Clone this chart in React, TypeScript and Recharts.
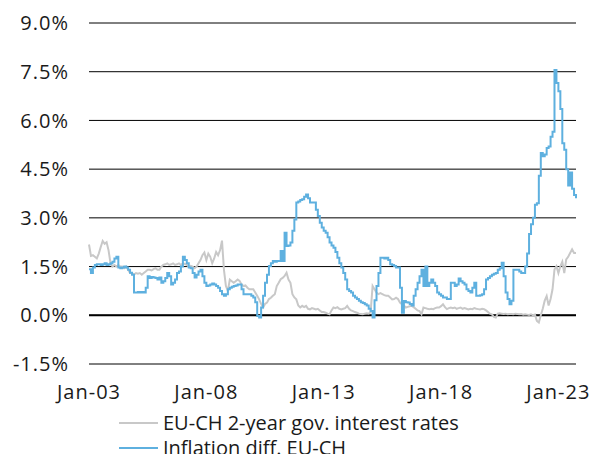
import React from 'react';
import {
  LineChart,
  Line,
  XAxis,
  YAxis,
  CartesianGrid,
  ReferenceLine,
} from 'recharts';

// monthly observations, Jan 2003 .. Oct 2023 (index 0 = Jan-03)
const xTicks = [0, 60, 120, 180, 240];
const xTickLabels = ['Jan-03', 'Jan-08', 'Jan-13', 'Jan-18', 'Jan-23'];
const yTicks = [-1.5, 0, 1.5, 3, 4.5, 6, 7.5, 9];

const seriesNames = ['EU-CH 2-year gov. interest rates', 'Inflation diff. EU-CH'];
const seriesColors = ['#c8c8c8', '#5eb0df'];

// EU-CH 2-year government yield spread, %
const rateDiff = [
  2.18, 1.83, 1.85, 1.80, 1.75, 1.90, 2.10, 2.29, 2.20, 2.25, 2.00, 1.60,
  1.50, 1.55, 1.50, 1.55, 1.50, 1.50, 1.45, 1.50, 1.40, 1.30, 1.30, 1.25,
  1.30, 1.28, 1.30, 1.25, 1.30, 1.35, 1.40, 1.40, 1.38, 1.42, 1.45, 1.40,
  1.40, 1.50, 1.55, 1.57, 1.60, 1.55, 1.57, 1.60, 1.55, 1.57, 1.60, 1.55,
  1.60, 1.58, 1.55, 1.50, 1.52, 1.50, 1.45, 1.50, 1.60, 1.70, 1.85, 1.93,
  1.70, 1.90, 1.80, 1.60, 1.75, 1.95, 1.85, 2.00, 2.30, 1.40, 0.90, 0.75,
  1.10, 1.05, 1.00, 1.05, 1.10, 1.06, 0.95, 0.90, 0.92, 0.85, 0.80, 0.80,
  0.80, 0.70, 0.60, 0.49, 0.35, 0.24, 0.35, 0.39, 0.50, 0.54, 0.60, 0.65,
  0.90, 1.00, 1.11, 1.15, 1.21, 1.31, 1.10, 1.00, 0.65, 0.55, 0.49, 0.30,
  0.24, 0.29, 0.25, 0.29, 0.20, 0.18, 0.22, 0.20, 0.18, 0.20, 0.15, 0.10,
  0.10, 0.08, 0.05, 0.03, 0.15, 0.24, 0.22, 0.25, 0.20, 0.18, 0.20, 0.22,
  0.29, 0.20, 0.15, 0.13, 0.10, 0.08, 0.05, 0.04, 0.03, 0.05, 0.06, 0.05,
  0.10, 0.90, 0.80, 0.70, 0.65, 0.68, 0.65, 0.62, 0.60, 0.60, 0.55, 0.49,
  0.50, 0.54, 0.50, 0.39, 0.34, 0.30, 0.24, 0.26, 0.28, 0.29, 0.25, 0.20,
  0.15, 0.13, 0.03, 0.24, 0.22, 0.20, 0.19, 0.20, 0.19, 0.22, 0.24, 0.24,
  0.28, 0.34, 0.25, 0.19, 0.22, 0.24, 0.22, 0.24, 0.20, 0.22, 0.24, 0.20,
  0.22, 0.20, 0.18, 0.20, 0.19, 0.22, 0.20, 0.19, 0.18, 0.20, 0.19, 0.15,
  0.10, 0.05, 0.03, -0.05, -0.07, 0.05, 0.06, 0.05, 0.04, 0.05, 0.03, 0.04,
  0.04, 0.03, 0.05, 0.04, 0.03, 0.04, 0.02, 0.03, 0.02, 0.01, 0.03, 0.00,
  0.02, -0.17, -0.22, 0.00, 0.20, 0.45, 0.59, 0.30, 0.50, 0.80, 1.41, 1.51,
  1.30, 1.51, 1.65, 1.30, 1.72, 1.80, 1.92, 2.03, 1.92, 1.92,
];

// EU minus CH headline inflation, %
const inflationDiff = [
  1.42, 1.30, 1.47, 1.55, 1.57, 1.57, 1.55, 1.57, 1.60, 1.55, 1.57, 1.60,
  1.65, 1.75, 1.80, 1.47, 1.45, 1.47, 1.50, 1.47, 1.40, 1.31, 1.25, 0.70,
  0.70, 0.72, 0.70, 0.72, 0.70, 0.85, 1.20, 1.15, 1.18, 1.16, 1.15, 1.10,
  1.16, 1.00, 1.05, 1.15, 1.30, 1.20, 0.95, 1.00, 1.10, 1.30, 1.35, 1.50,
  1.80, 1.70, 1.60, 1.47, 1.45, 1.30, 1.16, 1.25, 1.35, 1.40, 1.20, 1.00,
  0.90, 0.92, 0.95, 0.98, 0.95, 0.90, 0.85, 0.75, 0.65, 0.60, 0.65, 0.80,
  0.85, 0.88, 0.90, 0.92, 0.95, 0.95, 0.80, 0.65, 0.65, 0.65, 0.65, 0.60,
  0.55, 0.40, -0.02, -0.07, 0.24, 0.60, 1.00, 1.25, 1.52, 1.60, 1.67, 1.65,
  1.67, 1.67, 1.98, 1.67, 2.54, 2.13, 2.15, 2.24, 2.60, 2.95, 3.47, 3.50,
  3.55, 3.57, 3.65, 3.72, 3.60, 3.47, 3.47, 3.47, 3.25, 3.06, 2.85, 2.70,
  2.60, 2.54, 2.40, 2.24, 2.15, 2.08, 1.95, 1.77, 1.60, 1.47, 1.30, 1.10,
  0.80, 0.75, 0.70, 0.60, 0.55, 0.50, 0.45, 0.40, 0.38, 0.34, 0.30, 0.20,
  0.13, -0.07, 0.46, 0.90, 1.30, 1.77, 1.77, 1.75, 1.77, 1.70, 1.57, 1.55,
  1.52, 1.47, 1.47, 0.85, 0.08, 0.44, 0.40, 0.39, 0.35, 0.30, 0.60, 0.80,
  1.00, 1.20, 1.40, 0.90, 1.50, 0.90, 1.00, 1.10, 1.00, 0.90, 0.70, 0.65,
  0.60, 0.55, 0.55, 0.50, 0.50, 1.00, 1.00, 0.90, 0.95, 1.13, 1.05, 1.00,
  0.95, 0.80, 0.75, 0.70, 0.85, 1.00, 0.60, 0.60, 0.62, 0.65, 0.80, 1.10,
  1.15, 1.20, 1.25, 1.28, 1.30, 1.40, 1.45, 1.62, 1.20, 0.70, 0.50, 0.34,
  0.45, 1.40, 1.40, 1.40, 1.35, 1.30, 1.30, 1.50, 1.90, 2.50, 2.80, 3.00,
  3.40, 3.45, 4.30, 5.00, 4.90, 4.95, 5.15, 5.20, 5.50, 5.65, 7.55, 7.15,
  6.90, 6.35, 5.30, 5.10, 4.50, 4.00, 4.40, 3.90, 3.70, 3.60,
];

const data = rateDiff.map((rate, i) => ({ m: i, rate, infl: inflationDiff[i] }));

const FONT = '"Open Sans", "Noto Sans", Arial, sans-serif';
const tickStyle = { fontSize: 20, fill: '#1a1a1a', fontFamily: FONT, letterSpacing: 1 };

function LegendBlock() {
  return (
    <div
      style={{
        position: 'absolute',
        left: 119,
        top: 410,
        fontFamily: FONT,
        fontSize: 20,
        color: '#1a1a1a',
        lineHeight: '25px',
        whiteSpace: 'nowrap',
      }}
    >
      {seriesNames.map((name, i) => (
        <div key={name} style={{ display: 'flex', alignItems: 'center', height: 25 }}>
          <span
            style={{
              display: 'inline-block',
              width: 39,
              height: 2,
              background: seriesColors[i],
              marginRight: 5,
            }}
          />
          <span>{name}</span>
        </div>
      ))}
    </div>
  );
}

export default function App() {
  return (
    <div
      style={{
        position: 'absolute',
        left: 0,
        top: 0,
        width: 592,
        height: 454,
        overflow: 'hidden',
        background: '#fff',
      }}
    >
      <LineChart
        width={592}
        height={454}
        data={data}
        margin={{ top: 23, right: 16, left: 0, bottom: 60 }}
      >
        <CartesianGrid vertical={false} stroke="#000" strokeWidth={1} />
        <XAxis
          dataKey="m"
          type="number"
          domain={[0, rateDiff.length - 1]}
          ticks={xTicks}
          tickFormatter={(v) => xTickLabels[xTicks.indexOf(v)]}
          tick={tickStyle}
          tickLine={false}
          axisLine={false}
          tickSize={0}
          tickMargin={21}
          height={30}
          interval={0}
        />
        <YAxis
          type="number"
          domain={[-1.5, 9]}
          ticks={yTicks}
          tickFormatter={(v) => `${v.toFixed(1)}%`}
          tick={tickStyle}
          tickLine={false}
          axisLine={false}
          tickSize={0}
          tickMargin={20}
          width={89}
          interval={0}
        />
        <ReferenceLine y={0} stroke="#000" strokeWidth={2} />
        <Line
          type="linear"
          dataKey="rate"
          stroke={seriesColors[0]}
          strokeWidth={2}
          dot={false}
          isAnimationActive={false}
        />
        <Line
          type="stepAfter"
          dataKey="infl"
          stroke={seriesColors[1]}
          strokeWidth={2}
          dot={false}
          isAnimationActive={false}
        />
      </LineChart>
      <LegendBlock />
    </div>
  );
}
